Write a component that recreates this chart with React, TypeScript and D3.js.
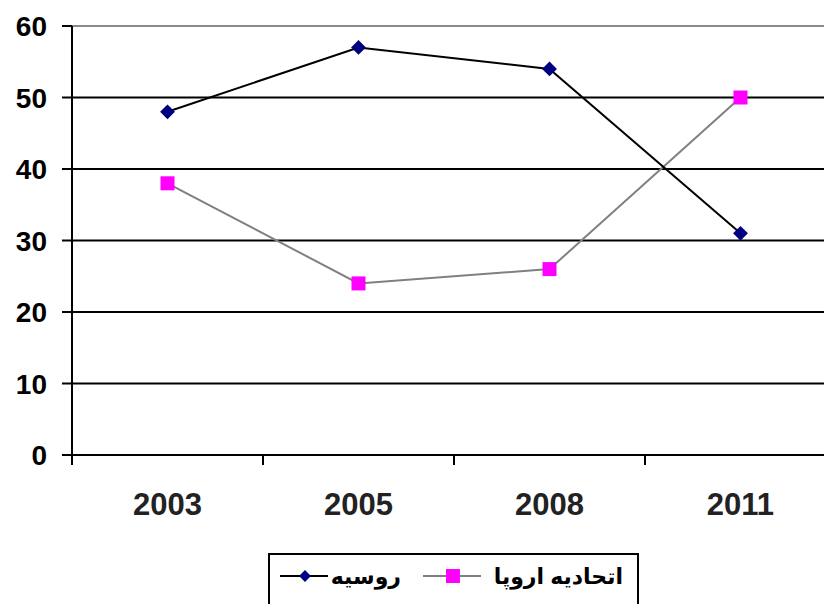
import React from 'react'
import * as d3 from 'd3'

const years = ['2003', '2005', '2008', '2011']
const russia = [48, 57, 54, 31]
const europe = [38, 24, 26, 50]
const yTicks = [0, 10, 20, 30, 40, 50, 60]
const russiaLabel = 'روسیه'
const europeLabel = 'اتحادیه اروپا'

const W = 824
const H = 604
const left = 72
const top = 26
const bottom = 455
const font = '"Liberation Sans", Arial, "DejaVu Sans", sans-serif'

export default function App() {
  const x = d3.scaleBand().domain(years).range([left, left + 4 * 191]).paddingInner(0).paddingOuter(0)
  const y = d3.scaleLinear().domain([0, 60]).range([bottom, top])
  const cx = (d: string) => (x(d) as number) + x.bandwidth() / 2

  const line = d3.line<[string, number]>().x(d => cx(d[0])).y(d => y(d[1]))
  const rPts = years.map((d, i) => [d, russia[i]] as [string, number])
  const ePts = years.map((d, i) => [d, europe[i]] as [string, number])

  const diamond = d3.symbol().type(d3.symbolSquare).size(110)()

  return (
    <svg width={W} height={H} style={{ position: 'absolute', left: 0, top: 0, background: '#fff' }}>
      {/* gridlines */}
      {yTicks.filter(t => t > 0).map(t => (
        <line key={t} x1={left} x2={W} y1={y(t)} y2={y(t)}
          stroke={t === 60 ? '#8a8a8a' : '#000'} strokeWidth={2} />
      ))}
      {/* axes */}
      <line x1={left} x2={left} y1={top} y2={bottom + 10} stroke="#000" strokeWidth={2} />
      <line x1={left} x2={W} y1={bottom} y2={bottom} stroke="#000" strokeWidth={2} />
      {yTicks.map(t => (
        <g key={t}>
          <line x1={left - 10} x2={left} y1={y(t)} y2={y(t)} stroke="#000" strokeWidth={2} />
          <text x={47} y={y(t)} dy="0.36em" textAnchor="end" fontFamily={font}
            fontWeight="bold" fontSize={28} fill="#000">{t}</text>
        </g>
      ))}
      {years.slice(1).map(d => (
        <line key={d} x1={x(d)} x2={x(d)} y1={bottom} y2={bottom + 10} stroke="#000" strokeWidth={2} />
      ))}
      {years.map(d => (
        <text key={d} x={cx(d)} y={515} textAnchor="middle" fontFamily={font}
          fontWeight="bold" fontSize={31} fill="#222">{d}</text>
      ))}
      {/* series */}
      <path d={line(ePts) || ''} fill="none" stroke="#808080" strokeWidth={2} />
      <path d={line(rPts) || ''} fill="none" stroke="#000" strokeWidth={2} />
      {ePts.map(p => (
        <rect key={p[0]} x={cx(p[0]) - 7} y={y(p[1]) - 7} width={14} height={14} fill="#ff00ff" />
      ))}
      {rPts.map(p => (
        <path key={p[0]} d={diamond || ''} transform={`translate(${cx(p[0])},${y(p[1])}) rotate(45)`} fill="#000080" />
      ))}
      {/* legend */}
      <rect x={269} y={554} width={369} height={60} fill="#fff" stroke="#000" strokeWidth={2} />
      <line x1={280} x2={328} y1={576} y2={576} stroke="#000" strokeWidth={2} />
      <path d={d3.symbol().type(d3.symbolSquare).size(70)() || ''} transform="translate(305,576) rotate(45)" fill="#000080" />
      <text x={401} y={576} dy="0.35em" textAnchor="end" fontFamily={font}
        fontWeight="bold" fontSize={22} fill="#000">{russiaLabel}</text>
      <line x1={423} x2={481} y1={576} y2={576} stroke="#808080" strokeWidth={2} />
      <rect x={446} y={569} width={14} height={14} fill="#ff00ff" />
      <text x={623} y={576} dy="0.35em" textAnchor="end" fontFamily={font}
        fontWeight="bold" fontSize={22} fill="#000">{europeLabel}</text>
    </svg>
  )
}
